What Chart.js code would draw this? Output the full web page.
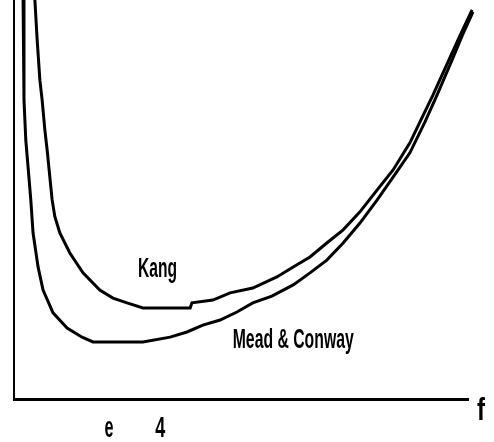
<!DOCTYPE html>
<html>
<head>
<meta charset="utf-8">
<script src="https://cdn.jsdelivr.net/npm/chart.js@4"></script>
<style>
  html, body { margin: 0; padding: 0; background: #fff; }
  #wrap { width: 494px; height: 442px; position: relative; }
</style>
</head>
<body>
<div id="wrap"><canvas id="chart"></canvas></div>
<script>
// curve values (f on x, 0..10 ; cost on y, 0..10)
const kangX = [0.46, 0.51, 0.57, 0.62, 0.68, 0.73, 0.84, 0.90, 1.01, 1.23, 1.52, 1.89, 2.18, 2.49, 2.84, 3.88, 3.92, 4.38, 4.76, 5.26, 5.79, 6.15, 6.52, 6.89, 7.25, 7.62, 8.00, 8.35, 8.72, 8.94, 9.23, 9.60, 9.82, 10.09];
const kangY = [10.0, 9.00, 7.99, 7.49, 6.74, 6.24, 4.99, 4.57, 4.16, 3.66, 3.16, 2.73, 2.53, 2.41, 2.28, 2.28, 2.41, 2.48, 2.66, 2.78, 3.06, 3.31, 3.56, 3.91, 4.24, 4.69, 5.24, 5.74, 6.42, 6.94, 7.62, 8.55, 9.10, 9.75];

const meadX = [0.20, 0.22, 0.26, 0.31, 0.37, 0.42, 0.53, 0.64, 0.86, 1.17, 1.50, 1.74, 2.84, 3.44, 3.81, 4.16, 4.54, 4.91, 5.26, 5.68, 6.15, 6.52, 6.89, 7.25, 7.62, 8.00, 8.35, 8.72, 9.05, 9.32, 9.65, 9.87, 10.11];
const meadY = [10.0, 7.49, 6.49, 5.81, 4.99, 4.16, 3.31, 2.73, 2.16, 1.78, 1.55, 1.43, 1.43, 1.55, 1.68, 1.85, 1.98, 2.18, 2.41, 2.58, 2.86, 3.16, 3.48, 3.91, 4.41, 4.99, 5.56, 6.17, 6.94, 7.62, 8.50, 9.10, 9.70];

// the two odd marks printed under the f axis
const tickValues = [2.09, 3.22];
const tickLabels = ['e', '4'];

// curve names written in the plot
const curveNames = ['Kang', 'Mead & Conway'];
const nameX = [3.16, 6.15];
const nameY = [3.06, 1.28];

const toPoints = (xs, ys) => xs.map((x, i) => ({ x: x, y: ys[i] }));

function squashText(ctx, text, cx, baseline, size, width) {
  ctx.save();
  ctx.font = 'bold ' + size + 'px "Liberation Sans", Arial, sans-serif';
  const w = ctx.measureText(text).width;
  ctx.translate(cx, baseline);
  ctx.scale(width / w, 1);
  ctx.textAlign = 'center';
  ctx.textBaseline = 'alphabetic';
  ctx.fillStyle = '#000';
  ctx.fillText(text, 0, 0);
  ctx.restore();
}

const textPlugin = {
  id: 'plotText',
  afterDraw(chart) {
    const ctx = chart.ctx;
    const xs = chart.scales.x, ys = chart.scales.y;
    const bottom = chart.chartArea.bottom;

    // curve names
    squashText(ctx, curveNames[0], xs.getPixelForValue(nameX[0]), ys.getPixelForValue(nameY[0]), 27, 39);
    squashText(ctx, curveNames[1], xs.getPixelForValue(nameX[1]), ys.getPixelForValue(nameY[1]), 27, 121);

    // marks under the axis
    squashText(ctx, tickLabels[0], xs.getPixelForValue(tickValues[0]), bottom + 38, 30, 9);
    squashText(ctx, tickLabels[1], xs.getPixelForValue(tickValues[1]), bottom + 38, 29, 10);

    // axis name at the end of the x axis
    squashText(ctx, 'f', chart.chartArea.right + 13, bottom + 21, 32, 8);
  }
};

new Chart(document.getElementById('chart'), {
  type: 'line',
  data: {
    datasets: [
      { label: 'Kang', data: toPoints(kangX, kangY), borderColor: '#000', borderWidth: 3, pointRadius: 0, tension: 0, clip: false },
      { label: 'Mead & Conway', data: toPoints(meadX, meadY), borderColor: '#000', borderWidth: 3, pointRadius: 0, tension: 0, clip: false }
    ]
  },
  options: {
    responsive: true,
    maintainAspectRatio: false,
    animation: false,
    layout: { autoPadding: false, padding: { left: 14, right: 26, top: 0, bottom: 43 } },
    plugins: { legend: { display: false }, tooltip: { enabled: false } },
    scales: {
      x: {
        type: 'linear', min: 0, max: 10,
        grid: { display: false, drawTicks: false },
        ticks: { display: false },
        border: { display: true, color: '#000', width: 3 }
      },
      y: {
        type: 'linear', min: 0, max: 10,
        grid: { display: false, drawTicks: false },
        ticks: { display: false },
        border: { display: true, color: '#000', width: 2 }
      }
    }
  },
  plugins: [textPlugin]
});
</script>
</body>
</html>
